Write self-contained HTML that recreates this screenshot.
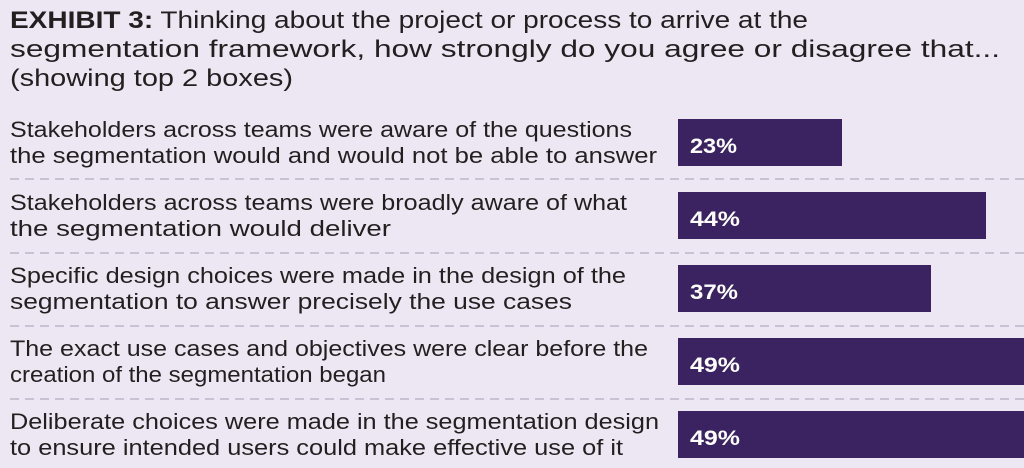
<!DOCTYPE html>
<html><head><style>
html,body{margin:0;padding:0;background:#ede7f3;}
svg{display:block;}
text{font-family:"Liberation Sans",sans-serif;fill:#231f20;}
</style></head><body>
<svg width="1024" height="468" viewBox="0 0 1024 468" xmlns="http://www.w3.org/2000/svg">
<rect width="1024" height="468" fill="#ede7f3"/>
<g font-size="24">
<text x="10" y="28" textLength="798" lengthAdjust="spacingAndGlyphs"><tspan font-weight="bold">EXHIBIT 3:</tspan> Thinking about the project or process to arrive at the</text>
<text x="10" y="57" textLength="990" lengthAdjust="spacingAndGlyphs">segmentation framework, how strongly do you agree or disagree that...</text>
<text x="10" y="86" textLength="283" lengthAdjust="spacingAndGlyphs">(showing top 2 boxes)</text>
</g>
<g stroke="#c9c2d4" stroke-width="2" stroke-dasharray="9,6">
<line x1="10" y1="179" x2="1024" y2="179"/>
<line x1="10" y1="253" x2="1024" y2="253"/>
<line x1="10" y1="326" x2="1024" y2="326"/>
<line x1="10" y1="399" x2="1024" y2="399"/>
</g>
<g font-size="22">
<text x="10" y="137" textLength="622" lengthAdjust="spacingAndGlyphs">Stakeholders across teams were aware of the questions</text>
<text x="10" y="163" textLength="647" lengthAdjust="spacingAndGlyphs">the segmentation would and would not be able to answer</text>
<text x="10" y="210" textLength="617" lengthAdjust="spacingAndGlyphs">Stakeholders across teams were broadly aware of what</text>
<text x="10" y="236" textLength="381" lengthAdjust="spacingAndGlyphs">the segmentation would deliver</text>
<text x="10" y="283" textLength="616" lengthAdjust="spacingAndGlyphs">Specific design choices were made in the design of the</text>
<text x="10" y="309" textLength="562" lengthAdjust="spacingAndGlyphs">segmentation to answer precisely the use cases</text>
<text x="10" y="356" textLength="638" lengthAdjust="spacingAndGlyphs">The exact use cases and objectives were clear before the</text>
<text x="10" y="382" textLength="376" lengthAdjust="spacingAndGlyphs">creation of the segmentation began</text>
<text x="10" y="429" textLength="649" lengthAdjust="spacingAndGlyphs">Deliberate choices were made in the segmentation design</text>
<text x="10" y="455" textLength="613" lengthAdjust="spacingAndGlyphs">to ensure intended users could make effective use of it</text>
</g>
<g fill="#3a2360">
<rect x="678" y="119" width="164" height="47"/>
<rect x="678" y="192" width="308" height="47"/>
<rect x="678" y="265" width="253" height="47"/>
<rect x="678" y="338" width="346" height="47"/>
<rect x="678" y="411" width="346" height="47"/>
</g>
<g font-size="21.5" font-weight="bold">
<text x="690" y="153" style="fill:#fff" textLength="47" lengthAdjust="spacingAndGlyphs">23%</text>
<text x="690" y="226" style="fill:#fff" textLength="50" lengthAdjust="spacingAndGlyphs">44%</text>
<text x="690" y="299" style="fill:#fff" textLength="48" lengthAdjust="spacingAndGlyphs">37%</text>
<text x="690" y="372" style="fill:#fff" textLength="50" lengthAdjust="spacingAndGlyphs">49%</text>
<text x="690" y="445" style="fill:#fff" textLength="50" lengthAdjust="spacingAndGlyphs">49%</text>
</g>
</svg>
</body></html>
